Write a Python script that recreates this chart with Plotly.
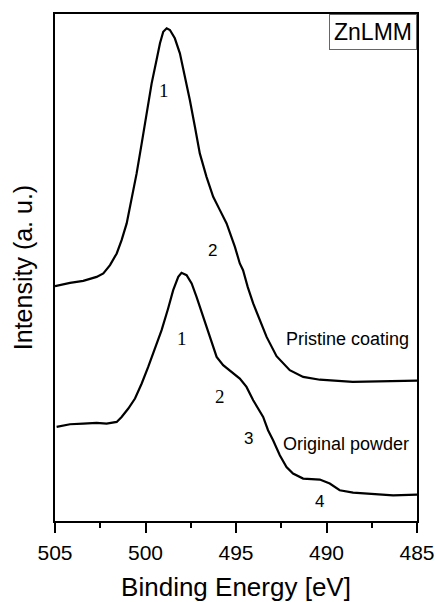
import plotly.graph_objects as go

# Binding energy (eV) and intensity (a.u.)
pristine_be = [505.00, 504.17, 503.44, 502.70, 502.33, 501.96, 501.59, 501.32, 501.04,
               500.77, 500.49, 500.21, 499.94, 499.66, 499.39, 499.20, 499.02, 498.83,
               498.65, 498.38, 498.10, 497.82, 497.55, 497.27, 497.00, 496.63, 496.26,
               495.89, 495.52, 495.06, 494.79, 494.61, 494.35, 494.05, 493.68, 493.31,
               492.76, 492.03, 491.29, 490.37, 488.55, 486.78, 485.00]
pristine_int = [234.7, 238.0, 240.0, 244.0, 247.4, 255.7, 267.4, 280.7, 297.4,
                320.7, 347.4, 377.4, 407.4, 437.4, 460.7, 477.4, 489.0, 492.4,
                490.7, 482.4, 467.4, 444.0, 420.7, 394.0, 367.4, 344.0, 324.0,
                310.7, 297.4, 274.0, 257.4, 250.7, 233.7, 217.4, 200.7, 184.0,
                164.7, 150.7, 144.0, 141.2, 139.0, 139.7, 140.2]

powder_be = [504.91, 504.17, 503.44, 502.70, 502.15, 501.59, 501.32, 500.95, 500.58,
             500.21, 499.85, 499.48, 499.11, 498.75, 498.47, 498.19, 498.01, 497.73,
             497.45, 497.18, 496.81, 496.44, 496.07, 495.71, 495.25, 494.79, 494.42,
             494.24, 494.05, 493.50, 493.23, 492.95, 492.58, 492.21, 491.85, 491.29,
             490.37, 489.82, 489.27, 488.53, 487.61, 486.32, 485.00]
powder_int = [94.0, 96.7, 97.4, 98.0, 97.4, 99.0, 104.0, 112.4, 122.4,
              137.4, 154.0, 172.4, 190.7, 212.4, 230.7, 244.0, 248.0, 245.7,
              237.4, 224.0, 204.0, 184.0, 164.0, 155.7, 149.0, 142.4, 134.0,
              127.4, 120.7, 104.0, 90.7, 80.7, 65.7, 54.0, 47.4, 42.4,
              41.4, 37.4, 30.7, 28.4, 27.4, 25.7, 26.4]

peak_labels = ["1", "2", "1", "2", "3", "4"]
peak_x = [498.98, 496.29, 497.97, 495.89, 494.33, 490.37]
peak_y = [430.7, 270.7, 182.4, 124.0, 82.4, 19.0]
peak_serif = [True, False, True, True, False, False]

series_names = ["Pristine coating", "Original powder"]
series_label_x = [488.86, 488.90]
series_label_y = [181.4, 77.4]

SANS = "Liberation Sans, Arial, sans-serif"
SERIF = "Liberation Serif, Times New Roman, serif"

fig = go.Figure()
fig.add_trace(go.Scatter(x=pristine_be, y=pristine_int, mode="lines",
                         line=dict(color="black", width=2.2),
                         name=series_names[0], showlegend=False))
fig.add_trace(go.Scatter(x=powder_be, y=powder_int, mode="lines",
                         line=dict(color="black", width=2.2),
                         name=series_names[1], showlegend=False))

for t, x, y, s in zip(peak_labels, peak_x, peak_y, peak_serif):
    fig.add_annotation(x=x, y=y, text=t, showarrow=False,
                       font=dict(family=SERIF if s else SANS, size=19 if s else 17, color="black"))

for t, x, y in zip(series_names, series_label_x, series_label_y):
    fig.add_annotation(x=x, y=y, text=t, showarrow=False,
                       font=dict(family=SANS, size=18, color="black"))

fig.add_annotation(xref="paper", yref="paper", x=1, y=1, xanchor="right", yanchor="top",
                   text="ZnLMM", showarrow=False, bordercolor="#666666", borderwidth=1,
                   borderpad=4, bgcolor="white",
                   font=dict(family=SANS, size=23, color="black"))

fig.update_layout(
    width=436, height=602,
    margin=dict(l=55, r=19, t=14, b=81),
    plot_bgcolor="white", paper_bgcolor="white",
    font=dict(family=SANS, color="black"),
    xaxis=dict(range=[505, 485], dtick=5, tick0=505, ticks="outside", ticklen=10, tickwidth=1.5,
               tickcolor="black", showline=True, linecolor="black", linewidth=1.5, mirror=True,
               showgrid=False, zeroline=False, tickfont=dict(size=21), automargin=False,
               ticklabelstandoff=2,
               minor=dict(dtick=2.5, ticks="outside", ticklen=5, tickcolor="black", tickwidth=1.5),
               title=dict(text="Binding Energy [eV]", font=dict(size=26), standoff=17)),
    yaxis=dict(range=[0, 506.7], showticklabels=False, ticks="", showline=True,
               linecolor="black", linewidth=1.5, mirror=True, showgrid=False, zeroline=False,
               automargin=False,
               title=dict(text="Intensity (a. u.)", font=dict(size=25), standoff=14)),
)

fig.write_html("out.html")
